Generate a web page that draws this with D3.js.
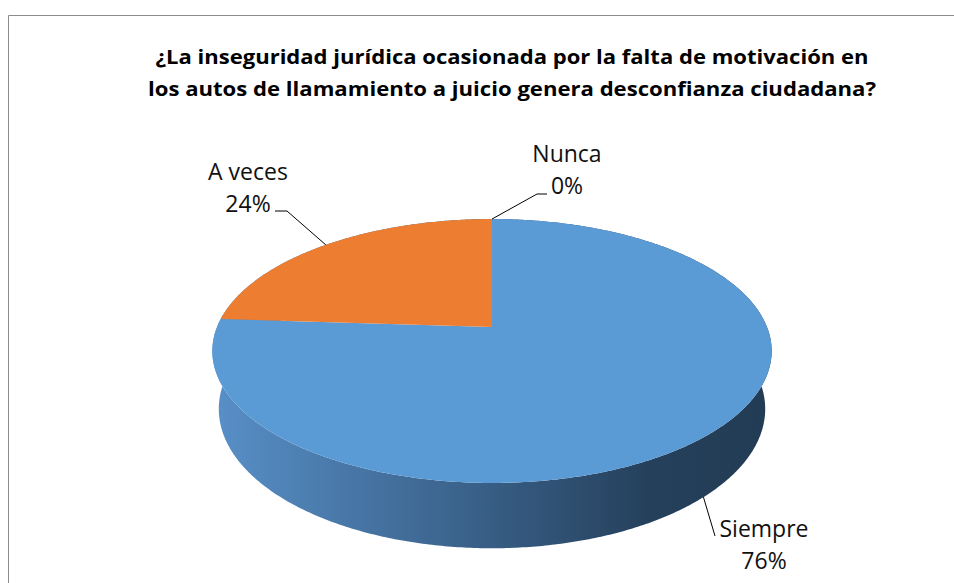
<!DOCTYPE html>
<html>
<head>
<meta charset="utf-8">
<script src="https://cdn.jsdelivr.net/npm/d3@7"></script>
<style>
  body { margin: 0; background: #fff; }
  svg { display: block; }
</style>
</head>
<body>
<svg id="chart" width="954" height="583"></svg>
<script>
const categories = ["Siempre", "A veces", "Nunca"];
const values = [76, 24, 0];
const percentLabels = ["76%", "24%", "0%"];
const titleLines = [
    "¿La inseguridad jurídica ocasionada por la falta de motivación en",
    "los autos de llamamiento a juicio genera desconfianza ciudadana?"
];
const titleWidths = [713, 728];
const sliceColors = ["#5b9bd5", "#ed7d31", "#a5a5a5"];

// label placement (text centre, leader elbow / end), in pixels
const labelLayout = [
    { x: 764, y: 537, elbow: [715, 536], end: null, onBottom: true },
    { x: 248, y: 180, elbow: [287, 211], end: [275, 211], onBottom: false },
    { x: 567, y: 162, elbow: [537, 194], end: [547, 194], onBottom: false }
];

const svg = d3.select("#chart");

// chart frame
svg.append("path")
    .attr("d", "M8.5,600 V15.5 H970")
    .attr("fill", "none")
    .attr("stroke", "#8c8c8c")
    .attr("stroke-width", 1);

// title
svg.append("g").selectAll("text")
    .data(titleLines)
    .enter().append("text")
    .attr("x", 512)
    .attr("y", (d, i) => 64 + i * 32)
    .attr("text-anchor", "middle")
    .attr("textLength", (d, i) => titleWidths[i])
    .attr("lengthAdjust", "spacingAndGlyphs")
    .style("font-family", "'Open Sans', 'Liberation Sans', sans-serif")
    .style("font-weight", "bold")
    .style("font-size", "19.5px")
    .attr("fill", "#000")
    .text(d => d);

// perspective projection of the pie disc
const cx = 492, cy = 327, k = 275;
const tilt = Math.asin(0.464), dist = 4.87, depth = 0.24;

function project(a, y) {
    const X = Math.sin(a), Z = -Math.cos(a);
    const up = y * Math.cos(tilt) - Z * Math.sin(tilt);
    const d = y * Math.sin(tilt) + Z * Math.cos(tilt);
    const s = dist / (dist - d);
    return [cx + k * X * s, cy - k * up * s];
}

function arcPoints(a0, a1, y) {
    const n = Math.max(2, Math.ceil(Math.abs(a1 - a0) / 0.01));
    return d3.range(n + 1).map(i => project(a0 + (a1 - a0) * i / n, y));
}

const pie = d3.pie().sort(null).value(d => d)
    .startAngle(0).endAngle(2 * Math.PI);
const arcs = pie(values);

const line = d3.line();

const defs = svg.append("defs");
const grad = defs.append("linearGradient")
    .attr("id", "sideShade")
    .attr("gradientUnits", "userSpaceOnUse")
    .attr("x1", 211).attr("y1", 0)
    .attr("x2", 774).attr("y2", 0);
grad.selectAll("stop")
    .data([[0, "#5890c8"], [0.5, "#375d84"], [0.78, "#25405b"], [1, "#233c55"]])
    .enter().append("stop")
    .attr("offset", d => d[0])
    .attr("stop-color", d => d[1]);

const pieGroup = svg.append("g");

// outer side walls
pieGroup.selectAll(".side")
    .data(arcs.filter(d => d.endAngle - d.startAngle > 0))
    .enter().append("path")
    .attr("class", "side")
    .attr("fill", "url(#sideShade)")
    .attr("d", d => {
        const top = arcPoints(d.startAngle, d.endAngle, 0);
        const bottom = arcPoints(d.endAngle, d.startAngle, -depth);
        return line(top.concat(bottom)) + "Z";
    });

// top faces
pieGroup.selectAll(".top")
    .data(arcs.filter(d => d.endAngle - d.startAngle > 0))
    .enter().append("path")
    .attr("class", "top")
    .attr("fill", d => sliceColors[d.index])
    .attr("d", d => line([[cx, cy]].concat(arcPoints(d.startAngle, d.endAngle, 0))) + "Z");

// data labels with leader lines
const labels = svg.append("g");
arcs.forEach((d, i) => {
    const lay = labelLayout[i];
    const mid = (d.startAngle + d.endAngle) / 2;
    const anchor = project(mid, lay.onBottom ? -depth : 0);
    const pts = [anchor, lay.elbow];
    if (lay.end) pts.push(lay.end);
    labels.append("path")
        .attr("d", line(pts))
        .attr("fill", "none")
        .attr("stroke", "#000")
        .attr("stroke-width", 1);
    labels.selectAll(null)
        .data([categories[i], percentLabels[i]])
        .enter().append("text")
        .attr("x", lay.x)
        .attr("y", (t, j) => lay.y + j * 32)
        .attr("text-anchor", "middle")
        .style("font-family", "'Open Sans', 'Liberation Sans', sans-serif")
        .style("font-size", "23px")
        .attr("fill", "#111")
        .text(t => t);
});
</script>
</body>
</html>
